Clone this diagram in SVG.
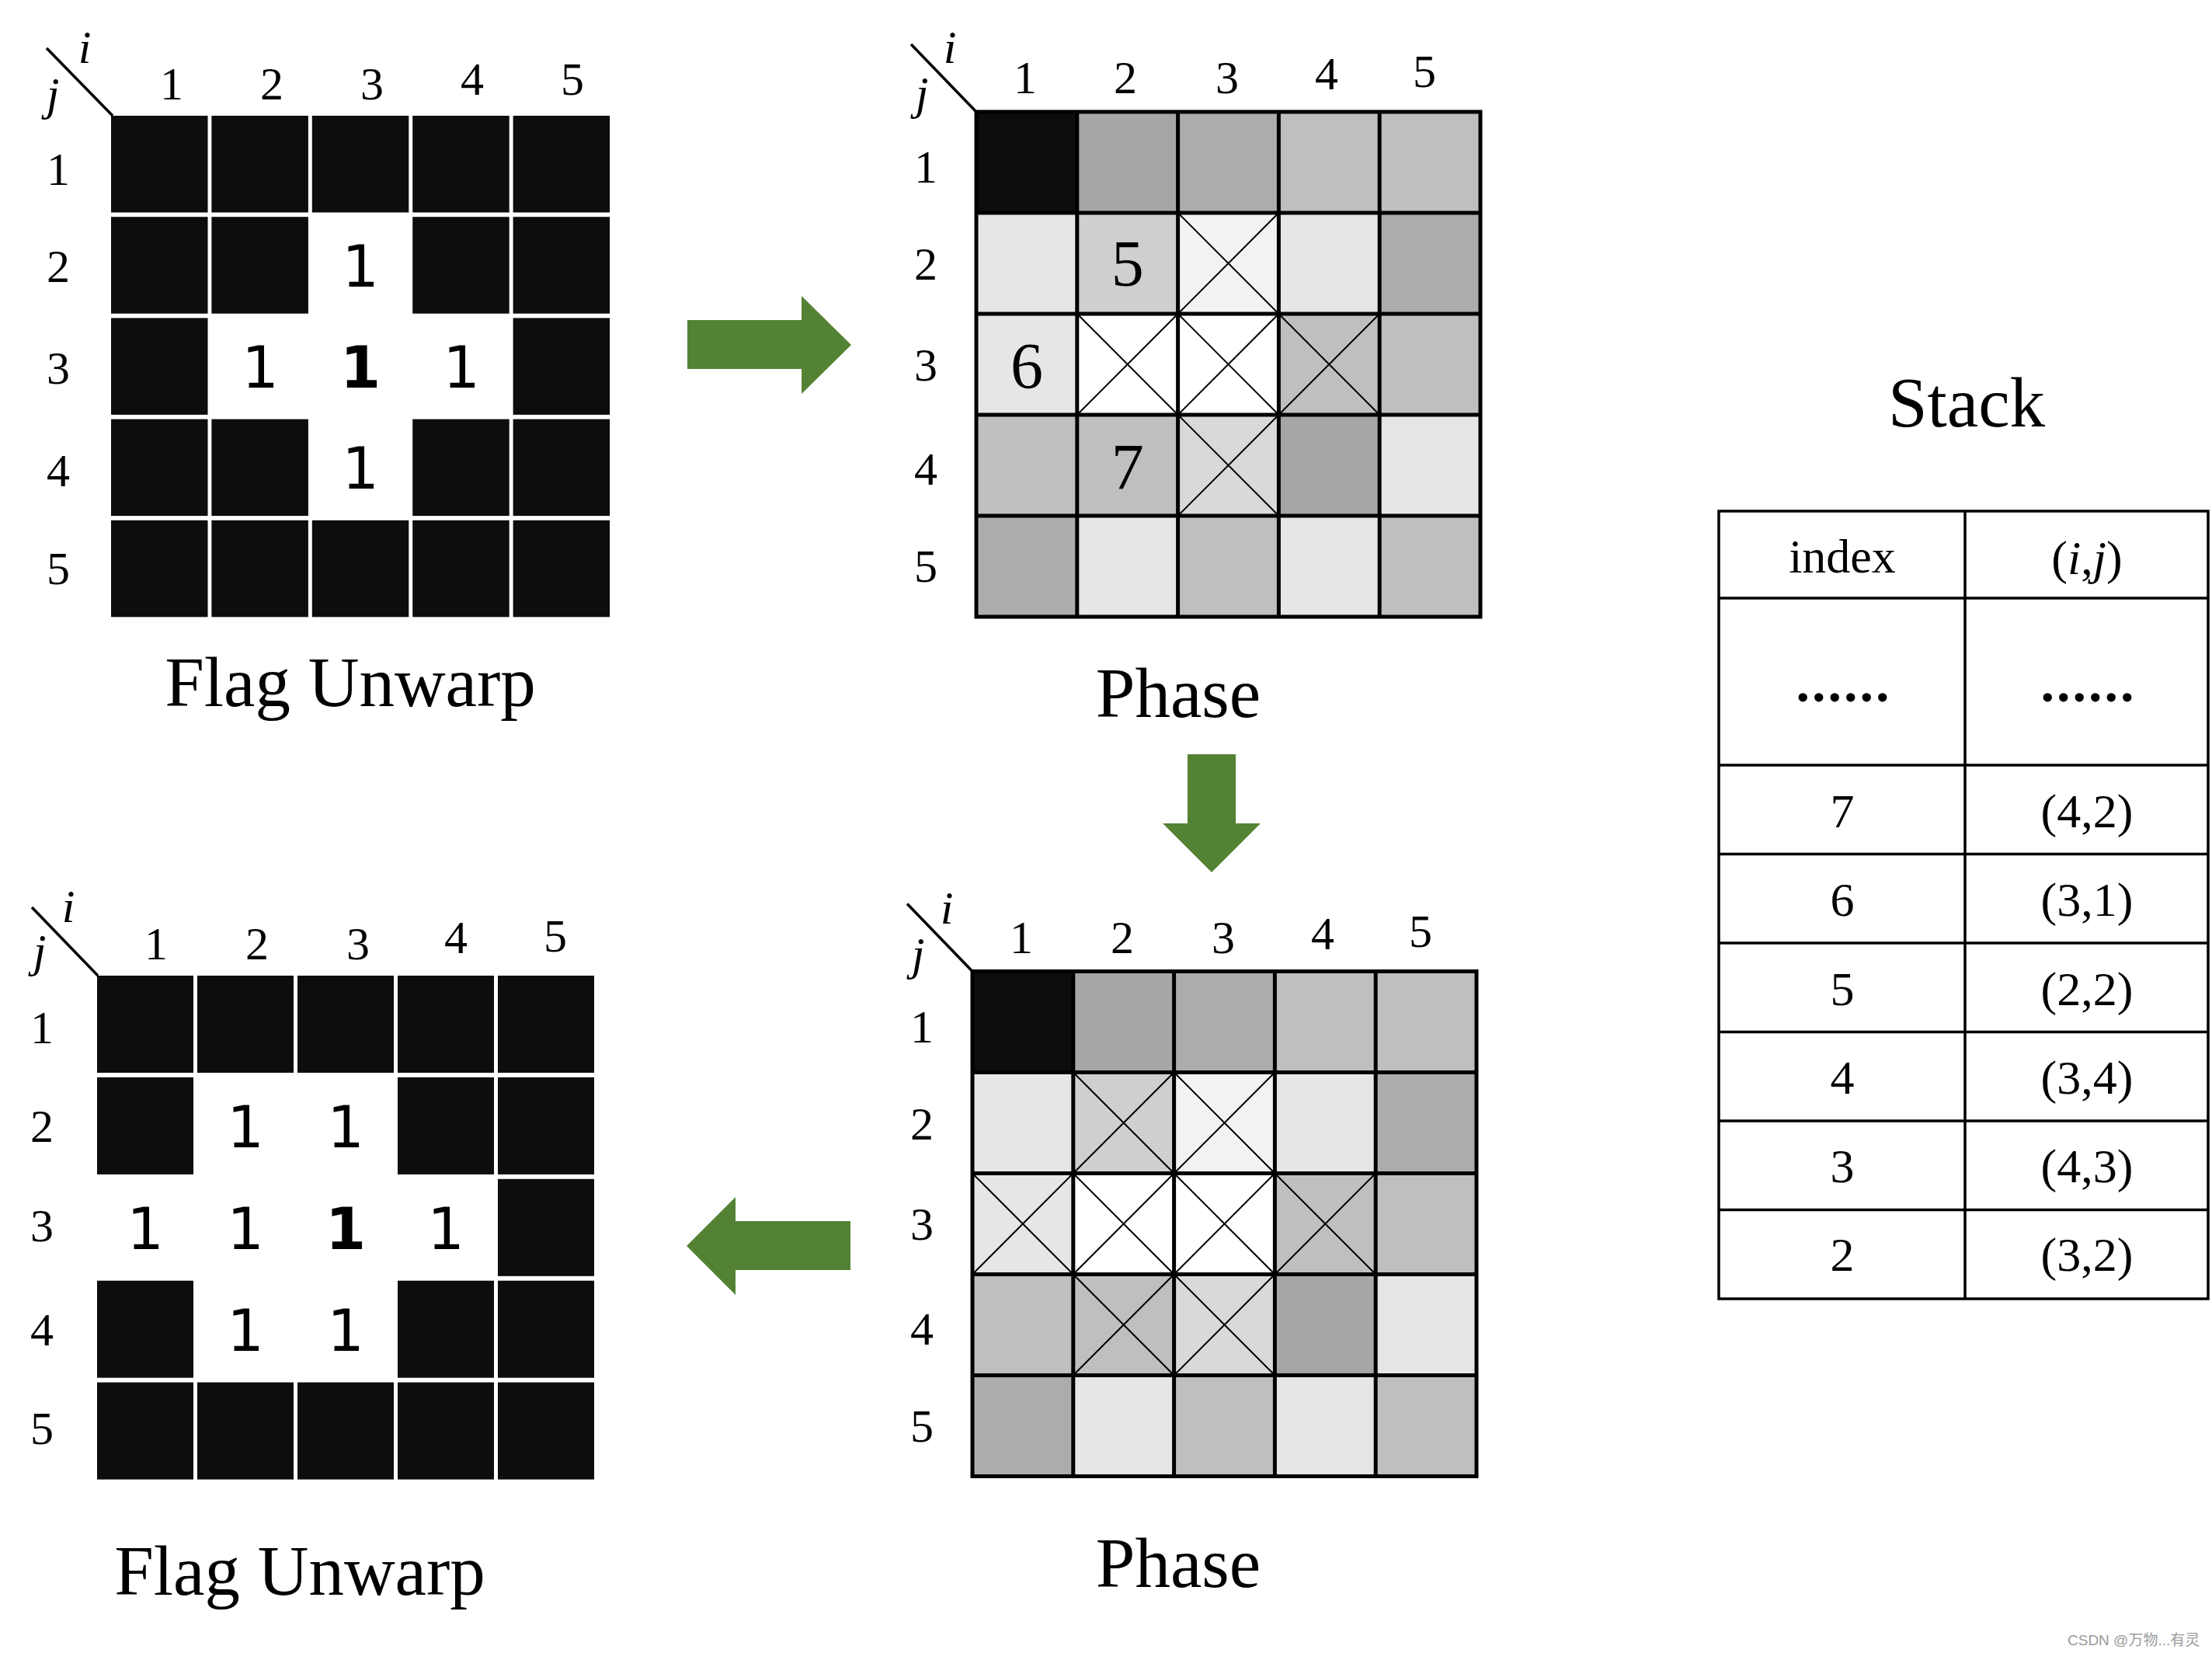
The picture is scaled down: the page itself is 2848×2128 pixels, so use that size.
<svg xmlns="http://www.w3.org/2000/svg" width="2848" height="2128" viewBox="0 0 2848 2128">
<style>
.k{fill:#0d0d0d}.g1{fill:#a6a6a6}.g2{fill:#aeabab}.g3{fill:#bfbfbf}.g4{fill:#e7e6e6}.g5{fill:#d0cece}.g6{fill:#f2f2f2}.g7{fill:#d9d9d9}.w{fill:#ffffff}
.x{stroke:#000;stroke-width:2;fill:none}
.gl{stroke:#000;stroke-width:5;fill:none}
.dg{stroke:#000;stroke-width:3.5;fill:none}
.lbl{font-family:"Liberation Serif","Times New Roman",serif;font-size:60px;text-anchor:middle;fill:#000}
.it{font-style:italic}
.one{font-family:"DejaVu Sans",sans-serif;font-size:75px;text-anchor:middle;fill:#000}
.bold{font-weight:bold}
.num{font-family:"Liberation Serif","Times New Roman",serif;font-size:84px;text-anchor:middle;fill:#000}
.title{font-family:"Liberation Serif","Times New Roman",serif;font-size:91px;text-anchor:middle;fill:#000}
.tb{font-family:"Liberation Serif","Times New Roman",serif;font-size:62px;text-anchor:middle;fill:#000}
.dots{font-family:"Liberation Serif","Times New Roman",serif;font-size:70px;font-weight:bold;letter-spacing:3px;text-anchor:middle;fill:#000}
.tl{stroke:#000;stroke-width:3.5;fill:none}
.arrow{fill:#548235}
</style>
<rect width="2848" height="2128" fill="#ffffff"/>

<!-- Upper Flag Unwarp -->
<g id="flag-top">
<g class="k">
<rect x="143" y="149" width="124.5" height="124.5"/><rect x="272.4" y="149" width="124.5" height="124.5"/><rect x="401.8" y="149" width="124.5" height="124.5"/><rect x="531.2" y="149" width="124.5" height="124.5"/><rect x="660.6" y="149" width="124.5" height="124.5"/>
<rect x="143" y="279.2" width="124.5" height="124.5"/><rect x="272.4" y="279.2" width="124.5" height="124.5"/><rect x="531.2" y="279.2" width="124.5" height="124.5"/><rect x="660.6" y="279.2" width="124.5" height="124.5"/>
<rect x="143" y="409.4" width="124.5" height="124.5"/><rect x="660.6" y="409.4" width="124.5" height="124.5"/>
<rect x="143" y="539.6" width="124.5" height="124.5"/><rect x="272.4" y="539.6" width="124.5" height="124.5"/><rect x="531.2" y="539.6" width="124.5" height="124.5"/><rect x="660.6" y="539.6" width="124.5" height="124.5"/>
<rect x="143" y="669.8" width="124.5" height="124.5"/><rect x="272.4" y="669.8" width="124.5" height="124.5"/><rect x="401.8" y="669.8" width="124.5" height="124.5"/><rect x="531.2" y="669.8" width="124.5" height="124.5"/><rect x="660.6" y="669.8" width="124.5" height="124.5"/>
</g>
<text class="one" x="464" y="369">1</text>
<text class="one" x="335" y="499">1</text>
<text class="one bold" x="464" y="499">1</text>
<text class="one" x="594" y="499">1</text>
<text class="one" x="464" y="629">1</text>
<line class="dg" x1="60" y1="62" x2="145" y2="149"/>
<text class="lbl it" x="109" y="81">i</text>
<text class="lbl it" x="68" y="141">j</text>
<text class="lbl" x="221" y="128">1</text><text class="lbl" x="350" y="128">2</text><text class="lbl" x="479" y="128">3</text><text class="lbl" x="608" y="122">4</text><text class="lbl" x="737" y="122">5</text>
<text class="lbl" x="75" y="238">1</text><text class="lbl" x="75" y="363">2</text><text class="lbl" x="75" y="494">3</text><text class="lbl" x="75" y="626">4</text><text class="lbl" x="75" y="752">5</text>
<text class="title" x="451" y="909">Flag Unwarp</text>
</g>

<!-- Upper Phase -->
<g id="phase-top" transform="translate(1257,144)">
<rect class="k" x="0" y="0" width="130" height="130"/><rect class="g1" x="129.8" y="0" width="130" height="130"/><rect class="g2" x="259.6" y="0" width="130" height="130"/><rect class="g3" x="389.4" y="0" width="130" height="130"/><rect class="g3" x="519.2" y="0" width="130" height="130"/>
<rect class="g4" x="0" y="130" width="130" height="130"/><rect class="g5" x="129.8" y="130" width="130" height="130"/><rect class="g6" x="259.6" y="130" width="130" height="130"/><rect class="g4" x="389.4" y="130" width="130" height="130"/><rect class="g2" x="519.2" y="130" width="130" height="130"/>
<rect class="g4" x="0" y="260" width="130" height="130"/><rect class="w" x="129.8" y="260" width="130" height="130"/><rect class="w" x="259.6" y="260" width="130" height="130"/><rect class="g3" x="389.4" y="260" width="130" height="130"/><rect class="g3" x="519.2" y="260" width="130" height="130"/>
<rect class="g3" x="0" y="390" width="130" height="130"/><rect class="g3" x="129.8" y="390" width="130" height="130"/><rect class="g7" x="259.6" y="390" width="130" height="130"/><rect class="g1" x="389.4" y="390" width="130" height="130"/><rect class="g4" x="519.2" y="390" width="130" height="130"/>
<rect class="g2" x="0" y="520" width="130" height="130"/><rect class="g4" x="129.8" y="520" width="130" height="130"/><rect class="g3" x="259.6" y="520" width="130" height="130"/><rect class="g4" x="389.4" y="520" width="130" height="130"/><rect class="g3" x="519.2" y="520" width="129.8" height="130"/>
<path class="x" d="M259.6 130L389.4 260M389.4 130L259.6 260M129.8 260L259.6 390M259.6 260L129.8 390M259.6 260L389.4 390M389.4 260L259.6 390M389.4 260L519.2 390M519.2 260L389.4 390M259.6 390L389.4 520M389.4 390L259.6 520"/>
<path class="gl" d="M129.8 0V650M259.6 0V650M389.4 0V650M519.2 0V650M0 130H649M0 260H649M0 390H649M0 520H649"/>
<rect class="gl" x="0" y="0" width="649" height="650"/>
<text class="num" x="194.7" y="224">5</text>
<text class="num" x="64.9" y="356">6</text>
<text class="num" x="194.7" y="486">7</text>
<line class="dg" x1="-84" y1="-87" x2="0" y2="0"/>
<text class="lbl it" x="-34" y="-63">i</text>
<text class="lbl it" x="-70" y="-4">j</text>
<text class="lbl" x="63" y="-24">1</text><text class="lbl" x="192" y="-24">2</text><text class="lbl" x="323" y="-24">3</text><text class="lbl" x="451" y="-29">4</text><text class="lbl" x="577" y="-32">5</text>
<text class="lbl" x="-65" y="91">1</text><text class="lbl" x="-65" y="216">2</text><text class="lbl" x="-65" y="346">3</text><text class="lbl" x="-65" y="480">4</text><text class="lbl" x="-65" y="605">5</text>
<text class="title" x="260" y="779">Phase</text>
</g>

<!-- Lower Phase -->
<g id="phase-bottom" transform="translate(1252,1250.5)">
<rect class="k" x="0" y="0" width="130" height="130"/><rect class="g1" x="129.8" y="0" width="130" height="130"/><rect class="g2" x="259.6" y="0" width="130" height="130"/><rect class="g3" x="389.4" y="0" width="130" height="130"/><rect class="g3" x="519.2" y="0" width="130" height="130"/>
<rect class="g4" x="0" y="130" width="130" height="130"/><rect class="g5" x="129.8" y="130" width="130" height="130"/><rect class="g6" x="259.6" y="130" width="130" height="130"/><rect class="g4" x="389.4" y="130" width="130" height="130"/><rect class="g2" x="519.2" y="130" width="130" height="130"/>
<rect class="g4" x="0" y="260" width="130" height="130"/><rect class="w" x="129.8" y="260" width="130" height="130"/><rect class="w" x="259.6" y="260" width="130" height="130"/><rect class="g3" x="389.4" y="260" width="130" height="130"/><rect class="g3" x="519.2" y="260" width="130" height="130"/>
<rect class="g3" x="0" y="390" width="130" height="130"/><rect class="g3" x="129.8" y="390" width="130" height="130"/><rect class="g7" x="259.6" y="390" width="130" height="130"/><rect class="g1" x="389.4" y="390" width="130" height="130"/><rect class="g4" x="519.2" y="390" width="130" height="130"/>
<rect class="g2" x="0" y="520" width="130" height="130"/><rect class="g4" x="129.8" y="520" width="130" height="130"/><rect class="g3" x="259.6" y="520" width="130" height="130"/><rect class="g4" x="389.4" y="520" width="130" height="130"/><rect class="g3" x="519.2" y="520" width="129.8" height="130"/>
<path class="x" d="M129.8 130L259.6 260M259.6 130L129.8 260M259.6 130L389.4 260M389.4 130L259.6 260M0 260L129.8 390M129.8 260L0 390M129.8 260L259.6 390M259.6 260L129.8 390M259.6 260L389.4 390M389.4 260L259.6 390M389.4 260L519.2 390M519.2 260L389.4 390M129.8 390L259.6 520M259.6 390L129.8 520M259.6 390L389.4 520M389.4 390L259.6 520"/>
<path class="gl" d="M129.8 0V650M259.6 0V650M389.4 0V650M519.2 0V650M0 130H649M0 260H649M0 390H649M0 520H649"/>
<rect class="gl" x="0" y="0" width="649" height="650"/>
<line class="dg" x1="-84" y1="-87" x2="0" y2="0"/>
<text class="lbl it" x="-33" y="-62">i</text>
<text class="lbl it" x="-70" y="-3">j</text>
<text class="lbl" x="63" y="-24">1</text><text class="lbl" x="193" y="-24">2</text><text class="lbl" x="323" y="-24">3</text><text class="lbl" x="451" y="-29">4</text><text class="lbl" x="577" y="-32">5</text>
<text class="lbl" x="-65" y="91">1</text><text class="lbl" x="-65" y="216">2</text><text class="lbl" x="-65" y="345">3</text><text class="lbl" x="-65" y="480">4</text><text class="lbl" x="-65" y="605">5</text>
<text class="title" x="265" y="792">Phase</text>
</g>

<!-- Lower Flag Unwarp -->
<g id="flag-bottom">
<g class="k">
<rect x="125" y="1256" width="124" height="125"/><rect x="254" y="1256" width="124" height="125"/><rect x="383" y="1256" width="124" height="125"/><rect x="512" y="1256" width="124" height="125"/><rect x="641" y="1256" width="124" height="125"/>
<rect x="125" y="1386.9" width="124" height="125"/><rect x="512" y="1386.9" width="124" height="125"/><rect x="641" y="1386.9" width="124" height="125"/>
<rect x="641" y="1517.8" width="124" height="125"/>
<rect x="125" y="1648.7" width="124" height="125"/><rect x="512" y="1648.7" width="124" height="125"/><rect x="641" y="1648.7" width="124" height="125"/>
<rect x="125" y="1779.6" width="124" height="125"/><rect x="254" y="1779.6" width="124" height="125"/><rect x="383" y="1779.6" width="124" height="125"/><rect x="512" y="1779.6" width="124" height="125"/><rect x="641" y="1779.6" width="124" height="125"/>
</g>
<text class="one" x="316" y="1477">1</text><text class="one" x="445" y="1477">1</text>
<text class="one" x="187" y="1608">1</text><text class="one" x="316" y="1608">1</text><text class="one bold" x="445" y="1608">1</text><text class="one" x="574" y="1608">1</text>
<text class="one" x="316" y="1739">1</text><text class="one" x="445" y="1739">1</text>
<line class="dg" x1="41" y1="1168" x2="126" y2="1256"/>
<text class="lbl it" x="88" y="1187">i</text>
<text class="lbl it" x="51" y="1244">j</text>
<text class="lbl" x="201" y="1235">1</text><text class="lbl" x="331" y="1235">2</text><text class="lbl" x="461" y="1235">3</text><text class="lbl" x="587" y="1227">4</text><text class="lbl" x="715" y="1225">5</text>
<text class="lbl" x="54" y="1343">1</text><text class="lbl" x="54" y="1470">2</text><text class="lbl" x="54" y="1598">3</text><text class="lbl" x="54" y="1732">4</text><text class="lbl" x="54" y="1859">5</text>
<text class="title" x="386" y="2053">Flag Unwarp</text>
</g>

<!-- Stack table -->
<g id="stack">
<text class="title" x="2532" y="549">Stack</text>
<rect class="tl" x="2213" y="658" width="630" height="1014"/>
<path class="tl" d="M2530 658V1672M2213 770H2843M2213 985H2843M2213 1099.5H2843M2213 1214H2843M2213 1328.5H2843M2213 1443H2843M2213 1557.5H2843"/>
<text class="tb" x="2372" y="737">index</text>
<text class="tb" x="2687" y="739">(<tspan class="it">i</tspan>,<tspan class="it">j</tspan>)</text>
<text class="dots" x="2374" y="903">......</text>
<text class="dots" x="2689" y="903">......</text>
<text class="tb" x="2372" y="1065">7</text><text class="tb" x="2687" y="1065">(4,2)</text>
<text class="tb" x="2372" y="1179">6</text><text class="tb" x="2687" y="1179">(3,1)</text>
<text class="tb" x="2372" y="1294">5</text><text class="tb" x="2687" y="1294">(2,2)</text>
<text class="tb" x="2372" y="1408">4</text><text class="tb" x="2687" y="1408">(3,4)</text>
<text class="tb" x="2372" y="1522">3</text><text class="tb" x="2687" y="1522">(4,3)</text>
<text class="tb" x="2372" y="1636">2</text><text class="tb" x="2687" y="1636">(3,2)</text>
</g>

<!-- Connectors -->
<g id="connectors">
<polygon class="arrow" points="885,412 1032,412 1032,381 1096,444 1032,507 1032,475 885,475"/>
<polygon class="arrow" points="1529,971 1591,971 1591,1060 1623,1060 1560,1123 1497,1060 1529,1060"/>
<polygon class="arrow" points="1095,1572 947,1572 947,1541 884,1604 947,1667 947,1635 1095,1635"/>
</g>

<text x="2662" y="2118" style="font-family:'Liberation Sans','Noto Sans CJK SC',sans-serif;font-size:19px;fill:#9a9a9a">CSDN @万物...有灵</text>
</svg>
